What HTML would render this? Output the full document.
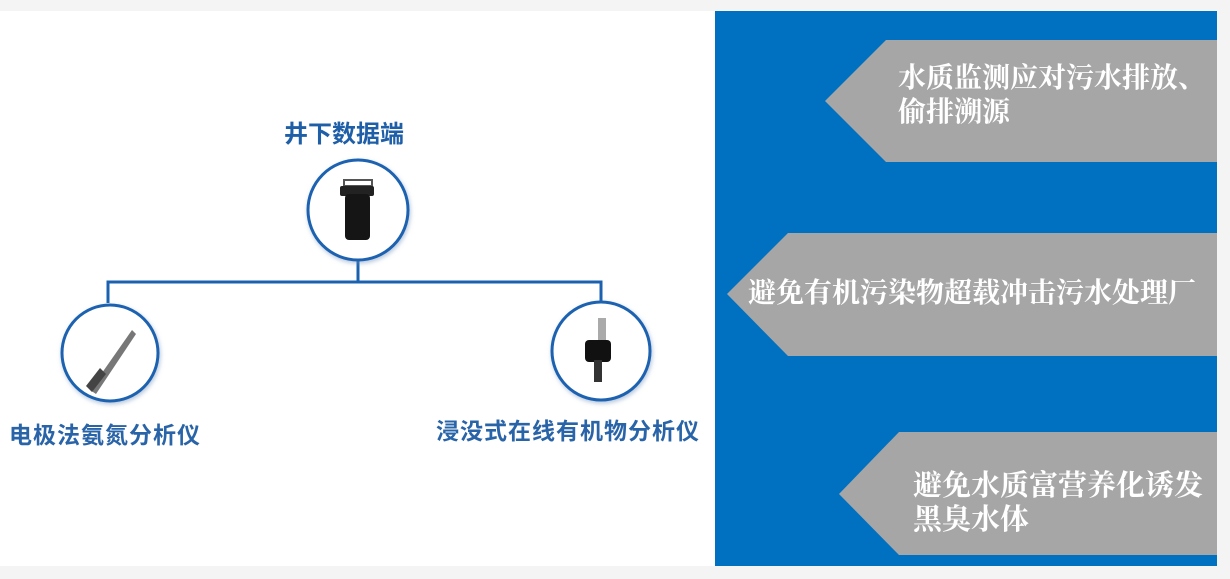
<!DOCTYPE html>
<html><head><meta charset="utf-8"><style>
html,body{margin:0;padding:0}
body{width:1230px;height:579px;background:#f4f4f4;position:relative;overflow:hidden;font-family:"Liberation Sans","Noto Sans CJK SC",sans-serif}
.t{position:absolute;white-space:nowrap}
</style></head><body>
<div style="position:absolute;left:0;top:11px;width:715px;height:555px;background:#fff"></div>
<div style="position:absolute;left:715px;top:11px;width:502px;height:555px;background:#0070c0"></div>
<svg width="1230" height="579" style="position:absolute;left:0;top:0">
<defs><filter id="s" x="-20%" y="-20%" width="140%" height="140%"><feDropShadow dx="1" dy="2" stdDeviation="2" flood-color="#6a8fb8" flood-opacity="0.5"/></filter></defs>
<g stroke="#1a62b0" stroke-width="3" fill="none">
<path d="M358 260 V282 M108 303 V282 H601 V302"/>
</g>
<g stroke="#1a62b0" stroke-width="3" fill="#fff" filter="url(#s)">
<circle cx="358" cy="210" r="50"/>
<circle cx="110" cy="353" r="48"/>
<circle cx="601" cy="351" r="49"/>
</g>
<rect x="344" y="180" width="28" height="6" fill="none" stroke="#555" stroke-width="2"/>
<rect x="340" y="186" width="34" height="10" rx="2" fill="#222"/>
<rect x="345" y="194" width="25" height="46" rx="4" fill="#151515"/>
<path d="M90 390 L132 330 L136 334 L96 394 Z" fill="#777"/>
<path d="M86 386 L100 368 L106 374 L92 392 Z" fill="#444"/>
<rect x="598" y="318" width="8" height="40" fill="#aaa"/>
<rect x="585" y="340" width="26" height="22" rx="4" fill="#111"/>
<rect x="594" y="360" width="8" height="22" fill="#333"/>
<polygon points="825,101 886,40 1217,40 1217,162 886,162" fill="#a6a6a6"/>
<polygon points="727,294 788,233 1217,233 1217,356 788,356" fill="#a6a6a6"/>
<polygon points="839,494 899,432 1217,432 1217,555 899,555" fill="#a6a6a6"/>
</svg>
<div class="t" style="left:284px;top:114px;font-size:24px;font-weight:bold;color:#1f5fa8">井下数据端</div>
<div class="t" style="left:9px;top:416px;font-size:23px;font-weight:bold;color:#2a64a8;letter-spacing:1px">电极法氨氮分析仪</div>
<div class="t" style="left:436px;top:412px;font-size:23px;font-weight:bold;color:#2a64a8;letter-spacing:1px">浸没式在线有机物分析仪</div>
<div class="t" style="left:898px;top:62px;font-size:28px;line-height:34px;font-weight:bold;color:#fff;font-family:'Liberation Serif','Noto Serif CJK SC',serif">水质监测应对污水排放、<br>偷排溯源</div>
<div class="t" style="left:748px;top:277px;font-size:28px;line-height:34px;font-weight:bold;color:#fff;font-family:'Liberation Serif','Noto Serif CJK SC',serif">避免有机污染物超载冲击污水处理厂</div>
<div class="t" style="left:913px;top:469px;font-size:29px;line-height:34px;font-weight:bold;color:#fff;font-family:'Liberation Serif','Noto Serif CJK SC',serif">避免水质富营养化诱发<br>黑臭水体</div>
</body></html>
